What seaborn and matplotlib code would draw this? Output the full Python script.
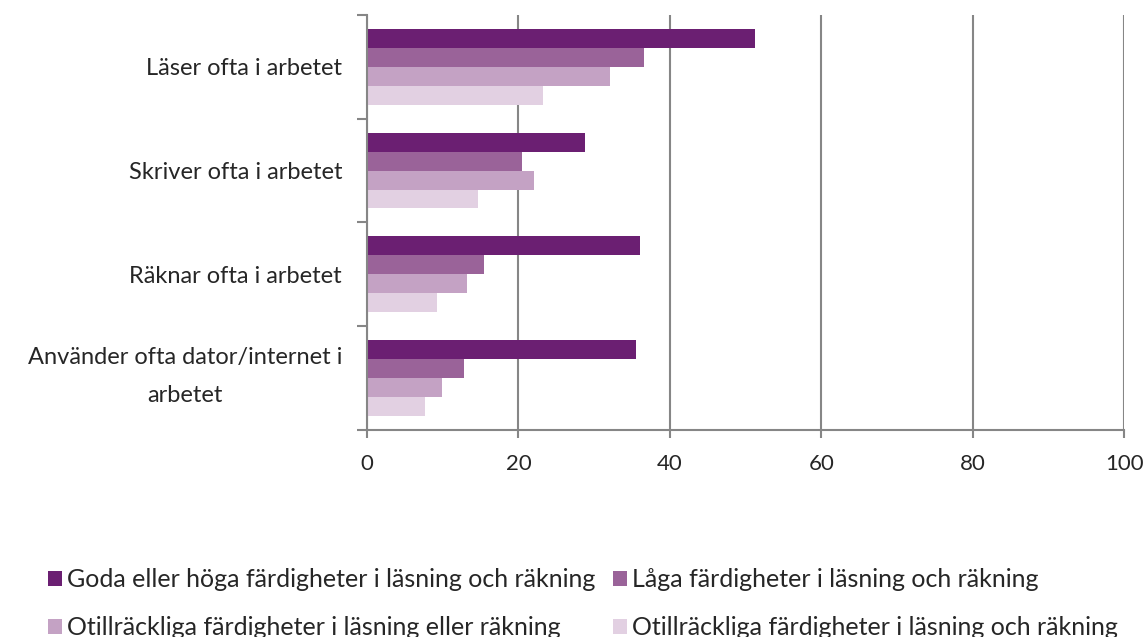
import pandas as pd
import seaborn as sns
import matplotlib.pyplot as plt
from matplotlib.transforms import ScaledTranslation

categories = ["Läser ofta i arbetet", "Skriver ofta i arbetet", "Räknar ofta i arbetet",
              "Använder ofta dator/internet i\narbetet"]
groups = ["Goda eller höga färdigheter i läsning och räkning",
          "Låga färdigheter i läsning och räkning",
          "Otillräckliga färdigheter i läsning eller räkning",
          "Otillräckliga färdigheter i läsning och räkning"]
goda = [51.2, 28.8, 36.0, 35.5]
laga = [36.6, 20.5, 15.5, 12.8]
otill_eller = [32.1, 22.0, 13.2, 9.9]
otill_och = [23.3, 14.7, 9.2, 7.6]
colors = ["#6B1F72", "#9A6399", "#C4A2C4", "#E2D0E2"]

rows = []
for g, vals in zip(groups, [goda, laga, otill_eller, otill_och]):
    for c, v in zip(categories, vals):
        rows.append({"kategori": c, "grupp": g, "andel": v})
df = pd.DataFrame(rows)

sns.set_style("white")
plt.rcParams['font.family'] = ['Lato', 'DejaVu Sans']

fig = plt.figure(figsize=(11.47, 6.37), dpi=100)
ax = fig.add_axes([0.32, 0.325, 0.66, 0.6515])

sns.barplot(data=df, y="kategori", x="andel", hue="grupp", order=categories,
            hue_order=groups, palette=colors, orient="h", width=0.73,
            saturation=1, linewidth=0, edgecolor="none", ax=ax, legend=True)

ax.set_xlim(0, 100)
ax.set_ylim(3.5, -0.5)
ax.set_xticks(range(0, 101, 20))
ax.set_xlabel("")
ax.set_ylabel("")
ax.grid(axis="x", color="#868686", linewidth=1.5)
ax.set_axisbelow(True)
for s in ["top", "right"]:
    ax.spines[s].set_visible(False)
for s in ["left", "bottom"]:
    ax.spines[s].set_color("#868686")
    ax.spines[s].set_linewidth(1.5)

ax.tick_params(axis="x", length=6, width=1.5, color="#868686", labelsize=16, pad=11,
               direction="out", bottom=True)
ax.tick_params(axis="y", which="major", length=0, labelsize=17, pad=18)
ax.set_yticks([-0.5, 0.5, 1.5, 2.5, 3.5], minor=True)
ax.tick_params(axis="y", which="minor", length=7, width=1.5, color="#868686", left=True,
               direction="out")
for lab in ax.get_yticklabels():
    lab.set_multialignment("center")
    lab.set_linespacing(2.0)
# the two-line label sits a bit higher in the original
last = ax.get_yticklabels()[-1]
last.set_transform(last.get_transform() + ScaledTranslation(0, 0.12, fig.dpi_scale_trans))

handles, labels = ax.get_legend_handles_labels()
ax.get_legend().remove()
order = [0, 2, 1, 3]
fig.legend([handles[i] for i in order], [labels[i] for i in order], ncol=2,
           loc="upper left", bbox_to_anchor=(0.042, 0.108), borderaxespad=0, borderpad=0,
           frameon=False, fontsize=18, handlelength=0.55, handleheight=0.55,
           handletextpad=0.2, columnspacing=0.7, labelspacing=1.0)

fig.savefig("out.png", dpi=100)
